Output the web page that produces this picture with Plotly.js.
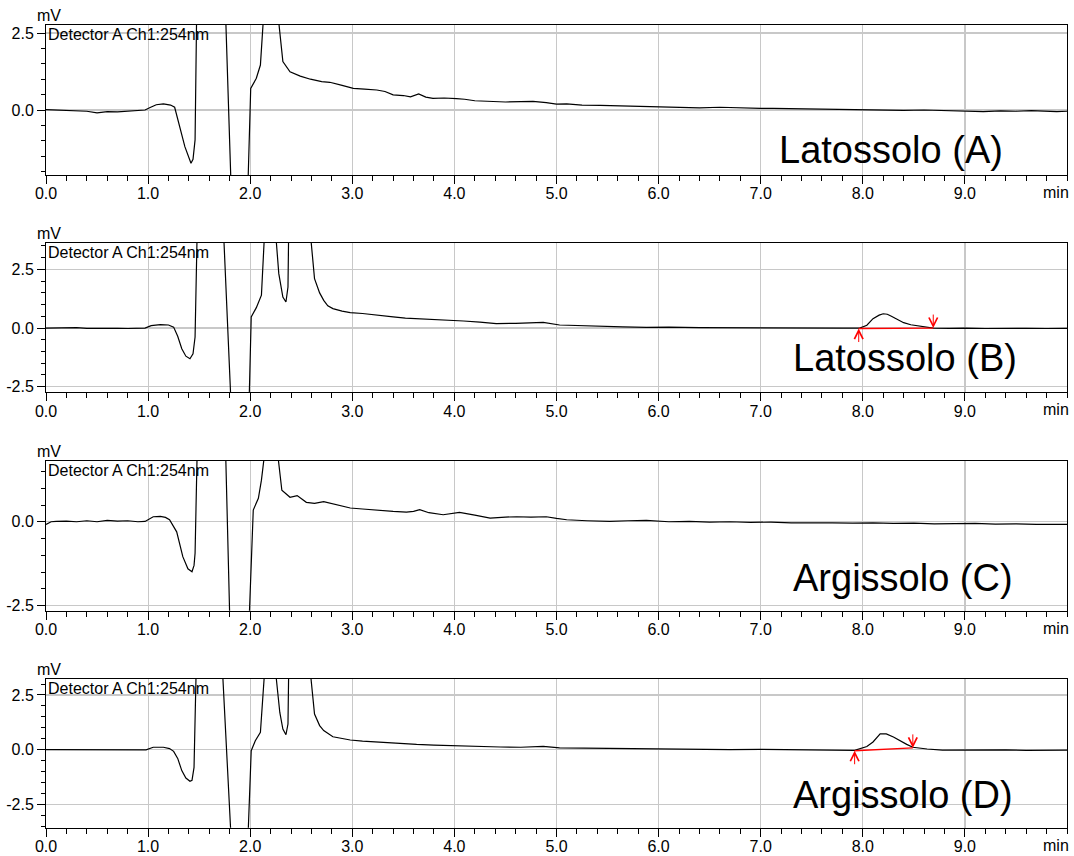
<!DOCTYPE html>
<html>
<head>
<meta charset="utf-8">
<script src="https://cdn.plot.ly/plotly-3.0.1.min.js"></script>
<style>
  html, body { margin: 0; padding: 0; background: #fff; }
  #chart { width: 1074px; height: 856px; }
</style>
</head>
<body>
<div id="chart"></div>
<script>
// Retention time (min) and detector signal (mV) for each chromatogram, 254 nm.
const tA = [0, 0.1, 0.2, 0.3, 0.4, 0.5, 0.6, 0.7, 0.8, 0.9, 0.97, 1.02, 1.08, 1.15, 1.22, 1.26, 1.31, 1.36, 1.42, 1.44,
  1.46, 1.475, 1.55, 1.70, 1.76, 1.81, 1.88, 1.95, 1.98, 2.005, 2.06, 2.10, 2.13, 2.2, 2.275, 2.32, 2.39, 2.49, 2.59, 2.70,
  2.78, 2.9, 3.01, 3.12, 3.24, 3.32, 3.40, 3.50, 3.57, 3.65, 3.72, 3.79, 3.9, 4.02, 4.1, 4.2, 4.35, 4.5, 4.65, 4.77,
  4.9, 5.0, 5.1, 5.25, 5.43, 5.6, 5.75, 5.88, 6.0, 6.2, 6.4, 6.6, 6.8, 7.0, 7.12, 7.3, 7.5, 7.7, 7.9, 8.04,
  8.2, 8.4, 8.6, 8.8, 9.0, 9.18, 9.35, 9.5, 9.65, 9.8, 9.9, 10.0];
const vA = [0.01, 0.0, -0.01, -0.02, -0.04, -0.09, -0.05, -0.06, -0.04, -0.03, 0.0, 0.08, 0.17, 0.20, 0.16, 0.09, -0.54, -1.19, -1.73, -1.6,
  -0.97, 3.0, 40, 20, 3.0, -2.2, -30, -10, -2.2, 0.7, 1.03, 1.46, 3.0, 30, 3.0, 1.57, 1.24, 1.10, 1.0, 0.92,
  0.90, 0.80, 0.70, 0.68, 0.65, 0.60, 0.49, 0.47, 0.43, 0.52, 0.42, 0.38, 0.39, 0.37, 0.35, 0.30, 0.27, 0.26, 0.27, 0.28,
  0.24, 0.19, 0.20, 0.16, 0.15, 0.14, 0.12, 0.11, 0.1, 0.09, 0.07, 0.09, 0.06, 0.05, 0.05, 0.04, 0.05, 0.02, 0.01, 0.0,
  0.01, -0.01, 0.0, -0.02, -0.03, -0.05, -0.03, -0.04, -0.02, -0.05, -0.05, -0.04];

const tB = [0, 0.1, 0.2, 0.3, 0.4, 0.5, 0.6, 0.7, 0.8, 0.9, 0.97, 1.03, 1.08, 1.12, 1.2, 1.25, 1.29, 1.33, 1.37, 1.41,
  1.44, 1.46, 1.48, 1.55, 1.68, 1.74, 1.81, 1.88, 1.95, 1.99, 2.01, 2.06, 2.11, 2.14, 2.19, 2.25, 2.28, 2.32, 2.35, 2.37,
  2.39, 2.48, 2.59, 2.63, 2.68, 2.72, 2.76, 2.81, 2.9, 2.98, 3.1, 3.24, 3.4, 3.52, 3.63, 3.8, 3.95, 4.09, 4.25, 4.41,
  4.6, 4.75, 4.87, 5.03, 5.2, 5.43, 5.65, 5.88, 6.1, 6.4, 6.7, 7.0, 7.3, 7.6, 7.8, 7.97, 8.04, 8.10, 8.16, 8.20,
  8.24, 8.28, 8.34, 8.40, 8.47, 8.53, 8.6, 8.69, 8.85, 9.0, 9.2, 9.4, 9.6, 9.8, 10.0];
const vB = [0.0, 0.01, 0.0, 0.02, -0.01, 0.0, -0.02, -0.01, -0.02, -0.01, 0.0, 0.1, 0.14, 0.15, 0.13, 0.04, -0.35, -0.88, -1.2, -1.31,
  -1.1, -0.38, 4.0, 40, 20, 4.0, -3.0, -30, -10, -3.0, 0.47, 0.87, 1.40, 4.0, 30, 4.0, 2.32, 1.32, 1.11, 1.75,
  4.0, 40, 4.0, 2.11, 1.5, 1.18, 0.95, 0.83, 0.72, 0.66, 0.62, 0.54, 0.48, 0.42, 0.40, 0.36, 0.33, 0.30, 0.25, 0.19,
  0.2, 0.21, 0.24, 0.13, 0.1, 0.07, 0.05, 0.03, 0.04, 0.02, 0.01, 0.0, 0.01, -0.01, 0.0, 0.0, 0.12, 0.40, 0.55, 0.61,
  0.59, 0.50, 0.36, 0.23, 0.14, 0.10, 0.05, 0.0, -0.01, 0.0, -0.02, 0.0, -0.01, -0.02, -0.01];

const tC = [0, 0.05, 0.1, 0.2, 0.3, 0.4, 0.5, 0.6, 0.7, 0.8, 0.9, 0.97, 1.05, 1.12, 1.17, 1.21, 1.28, 1.34, 1.39, 1.43,
  1.45, 1.46, 1.48, 1.55, 1.70, 1.76, 1.80, 1.88, 1.95, 1.99, 2.03, 2.08, 2.11, 2.14, 2.2, 2.27, 2.31, 2.39, 2.46, 2.55,
  2.63, 2.72, 2.85, 2.98, 3.1, 3.24, 3.4, 3.53, 3.6, 3.66, 3.75, 3.89, 3.97, 4.05, 4.2, 4.35, 4.5, 4.61, 4.75, 4.90,
  5.0, 5.10, 5.3, 5.52, 5.7, 5.88, 6.1, 6.3, 6.5, 6.7, 6.9, 7.1, 7.3, 7.5, 7.7, 7.9, 8.1, 8.3, 8.5, 8.7,
  8.9, 9.1, 9.3, 9.5, 9.7, 9.85, 10.0];
const vC = [-0.08, 0.0, 0.01, 0.02, 0.0, 0.03, 0.0, 0.04, 0.02, 0.03, 0.0, 0.01, 0.15, 0.16, 0.13, 0.06, -0.30, -1.04, -1.4, -1.49,
  -1.3, -0.94, 2.0, 40, 20, 2.0, -2.9, -30, -10, -2.9, 0.35, 0.70, 1.24, 2.0, 30, 2.0, 0.94, 0.73, 0.78, 0.58,
  0.55, 0.60, 0.50, 0.41, 0.38, 0.34, 0.31, 0.29, 0.31, 0.36, 0.27, 0.21, 0.25, 0.28, 0.2, 0.11, 0.14, 0.15, 0.14, 0.15,
  0.10, 0.06, 0.03, 0.01, 0.03, 0.04, 0.0, 0.01, -0.01, 0.0, -0.02, -0.01, -0.03, -0.02, -0.03, -0.04, -0.03, -0.05, -0.04, -0.06,
  -0.05, -0.05, -0.07, -0.06, -0.08, -0.07, -0.08];

const tD = [0, 0.1, 0.2, 0.3, 0.4, 0.5, 0.6, 0.7, 0.8, 0.9, 0.98, 1.05, 1.15, 1.21, 1.25, 1.29, 1.33, 1.37, 1.41, 1.43,
  1.45, 1.47, 1.55, 1.67, 1.73, 1.81, 1.88, 1.95, 1.98, 2.01, 2.05, 2.10, 2.14, 2.19, 2.25, 2.29, 2.32, 2.35, 2.37, 2.38,
  2.48, 2.59, 2.63, 2.68, 2.72, 2.81, 2.9, 2.98, 3.1, 3.3, 3.45, 3.63, 3.8, 4.02, 4.2, 4.45, 4.65, 4.87, 5.03, 5.2,
  5.52, 5.7, 5.88, 6.1, 6.4, 6.7, 7.0, 7.3, 7.6, 7.8, 7.92, 8.04, 8.10, 8.17, 8.23, 8.30, 8.36, 8.43, 8.49, 8.56,
  8.63, 8.78, 9.0, 9.2, 9.4, 9.6, 9.8, 10.0];
const vD = [0.0, 0.0, -0.01, 0.0, -0.02, -0.02, -0.01, -0.03, -0.02, -0.02, -0.01, 0.11, 0.11, 0.05, -0.08, -0.4, -0.96, -1.3, -1.45, -1.4,
  -0.81, 3.5, 40, 20, 3.5, -3.8, -30, -10, -3.8, -0.05, 0.41, 0.79, 3.5, 30, 3.5, 1.70, 0.94, 0.68, 1.17, 3.5,
  40, 3.5, 1.63, 1.1, 0.87, 0.59, 0.5, 0.44, 0.39, 0.33, 0.28, 0.24, 0.21, 0.17, 0.14, 0.12, 0.11, 0.15, 0.08, 0.07,
  0.05, 0.04, 0.05, 0.02, 0.01, 0.0, 0.01, -0.01, 0.0, -0.02, -0.03, 0.14, 0.35, 0.72, 0.72, 0.58, 0.41, 0.24, 0.11, 0.06,
  0.03, -0.02, -0.01, -0.03, -0.01, -0.03, -0.02, -0.02];

// Integration baselines (start, end) drawn under the peak near 8.2 min
const baseBt = [7.96, 8.69];
const baseBv = [-0.02, 0.0];
const baseDt = [7.92, 8.49];
const baseDv = [-0.05, 0.08];

// Sample names
const sampleNames = ["Latossolo (A)", "Latossolo (B)", "Argissolo (C)", "Argissolo (D)"];
const detectorLabel = "Detector A Ch1:254nm";

// Axis ticks
const xTickVals = [0, 1, 2, 3, 4, 5, 6, 7, 8, 9];
const xTickText = ["0.0", "1.0", "2.0", "3.0", "4.0", "5.0", "6.0", "7.0", "8.0", "9.0"];
const yTickVals = [-2.5, 0, 2.5];
const yTickText = ["-2.5", "0.0", "2.5"];

// Visible signal window of each panel (mV)
const yRanges = [[-2.11, 2.76], [-2.74, 3.64], [-2.65, 1.82], [-3.57, 3.23]];

const W = 1074, H = 856;
const xDom = [46 / W, 1067 / W];
// panel top/bottom in pixels
const panelPx = [[25, 175], [242.7, 392.3], [460.7, 610.7], [679, 827.7]];
const labelPos = [[890.5, 150], [904.5, 358], [902.5, 578], [902.5, 795]];

const FONT = "Liberation Sans, Arial, Helvetica, sans-serif";

const series = [[tA, vA], [tB, vB], [tC, vC], [tD, vD]];
const data = [];
series.forEach((s, i) => {
  const n = i === 0 ? "" : String(i + 1);
  data.push({
    x: s[0], y: s[1], type: "scatter", mode: "lines",
    xaxis: "x" + n, yaxis: "y" + n,
    line: { color: "#000", width: 1.2 },
    hoverinfo: "skip", showlegend: false
  });
});
data.push({ x: baseBt, y: baseBv, type: "scatter", mode: "lines", xaxis: "x2", yaxis: "y2",
  line: { color: "#ff0000", width: 1.3 }, showlegend: false, hoverinfo: "skip" });
data.push({ x: baseDt, y: baseDv, type: "scatter", mode: "lines", xaxis: "x4", yaxis: "y4",
  line: { color: "#ff0000", width: 1.3 }, showlegend: false, hoverinfo: "skip" });

const layout = {
  width: W, height: H,
  margin: { l: 0, r: 0, t: 0, b: 0 },
  paper_bgcolor: "#fff", plot_bgcolor: "#fff",
  font: { family: FONT, size: 16, color: "#000" },
  showlegend: false,
  annotations: [],
  shapes: []
};

panelPx.forEach((p, i) => {
  const n = i === 0 ? "" : String(i + 1);
  const yDom = [1 - p[1] / H, 1 - p[0] / H];
  layout["xaxis" + n] = {
    domain: xDom, anchor: "y" + n, range: [0, 10],
    tickmode: "array", tickvals: xTickVals, ticktext: xTickText,
    ticks: "outside", ticklen: 8, tickwidth: 1, tickcolor: "#000",
    ticklabelstandoff: -4,
    showline: true, linecolor: "#000", linewidth: 1, mirror: true,
    showgrid: true, gridcolor: "#c8c8c8", gridwidth: 1.2, zeroline: false,
    tickfont: { family: FONT, size: 16, color: "#000" },
    minor: { tickmode: "linear", tick0: 0, dtick: 0.2, ticks: "outside", ticklen: 5,
      tickwidth: 1, tickcolor: "#000", showgrid: false },
    fixedrange: true
  };
  layout["yaxis" + n] = {
    domain: yDom, anchor: "x" + n, range: yRanges[i],
    tickmode: "array", tickvals: yTickVals, ticktext: yTickText,
    ticks: "outside", ticklen: 8, tickwidth: 1, tickcolor: "#000",
    showline: true, linecolor: "#000", linewidth: 1, mirror: true,
    showgrid: true, gridcolor: "#c8c8c8", gridwidth: 1.2, zeroline: false,
    tickfont: { family: FONT, size: 16, color: "#000" },
    minor: { tickmode: "linear", tick0: 0, dtick: 0.5, ticks: "outside", ticklen: 4,
      tickwidth: 1, tickcolor: "#000", showgrid: false },
    fixedrange: true
  };
  // unit label above the signal axis
  layout.annotations.push({
    xref: "paper", yref: "paper", x: 48.5 / W, y: yDom[1], xanchor: "center", yanchor: "bottom",
    text: "mV", showarrow: false, font: { family: FONT, size: 16, color: "#000" }, borderpad: 0
  });
  // detector caption inside the frame
  layout.annotations.push({
    xref: "paper", yref: "paper", x: 47 / W, y: yDom[1], xanchor: "left", yanchor: "top",
    text: detectorLabel, showarrow: false, font: { family: FONT, size: 16, color: "#000" }, borderpad: 0
  });
  // time unit at the end of the time axis
  layout.annotations.push({
    xref: "paper", yref: "paper", x: 1056 / W, y: yDom[0], xanchor: "center", yanchor: "top",
    yshift: -8, text: "min", showarrow: false, font: { family: FONT, size: 16, color: "#000" }, borderpad: 0
  });
  // sample name
  layout.annotations.push({
    xref: "paper", yref: "paper", x: labelPos[i][0] / W, y: 1 - labelPos[i][1] / H,
    xanchor: "center", yanchor: "middle",
    text: sampleNames[i], showarrow: false, font: { family: FONT, size: 38, color: "#000" }
  });
});

// start / end markers of the integrated peaks
function peakMarks(ax, ay, t, v) {
  layout.annotations.push({
    xref: ax, yref: ay, x: t[0], y: v[0], ax: 0, ay: 15, text: "", showarrow: true,
    arrowhead: 5, arrowsize: 1.7, arrowwidth: 1, arrowcolor: "#ff0000"
  });
  layout.annotations.push({
    xref: ax, yref: ay, x: t[1], y: v[1], ax: 0, ay: -15, text: "", showarrow: true,
    arrowhead: 5, arrowsize: 1.7, arrowwidth: 1, arrowcolor: "#ff0000"
  });
}
peakMarks("x2", "y2", baseBt, baseBv);
peakMarks("x4", "y4", baseDt, baseDv);

Plotly.newPlot("chart", data, layout, { displayModeBar: false, staticPlot: true });
</script>
</body>
</html>
